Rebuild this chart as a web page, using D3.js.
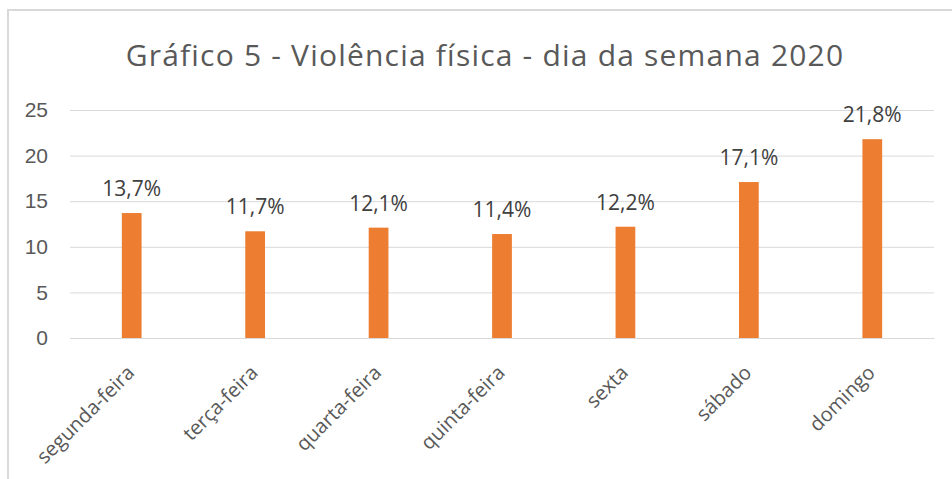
<!DOCTYPE html>
<html>
<head>
<meta charset="utf-8">
<script src="https://cdn.jsdelivr.net/npm/d3@7"></script>
<style>
  body { margin: 0; background: #fff; }
  svg { display: block; font-family: "Open Sans", sans-serif; }
</style>
</head>
<body>
<svg id="chart"></svg>
<script>
const days = ['segunda-feira', 'terça-feira', 'quarta-feira', 'quinta-feira', 'sexta', 'sábado', 'domingo'];
const percents = [13.7, 11.7, 12.1, 11.4, 12.2, 17.1, 21.8];
const yTicks = [0, 5, 10, 15, 20, 25];
const title = 'Gráfico 5 - Violência física - dia da semana 2020';

const width = 952, height = 479;
const margin = {top: 110, right: 18, bottom: 141, left: 70};

const svg = d3.select('#chart')
    .attr('width', width)
    .attr('height', height);

// outer frame (cut off on right and bottom like the screenshot)
svg.append('rect')
    .attr('x', 8).attr('y', 10)
    .attr('width', width + 10).attr('height', height + 10)
    .attr('fill', '#fff')
    .attr('stroke', '#d9d9d9')
    .attr('stroke-width', 2);

const chart = svg.append('g')
    .attr('transform', `translate(${margin.left},${margin.top})`);

const innerW = width - margin.left - margin.right;
const innerH = height - margin.top - margin.bottom;

const x = d3.scaleBand()
    .domain(days)
    .range([0, innerW])
    .paddingInner(0.84)
    .paddingOuter(0.42);

const y = d3.scaleLinear()
    .domain([0, 25])
    .range([innerH, 0]);

// gridlines + y labels
const yAxis = d3.axisLeft(y)
    .tickValues(yTicks)
    .tickSize(-innerW)
    .tickPadding(22)
    .tickFormat(d3.format('d'));

chart.append('g')
    .attr('font-family', null)
    .call(yAxis)
    .call(g => g.select('.domain').remove())
    .call(g => g.selectAll('line').attr('stroke', '#d9d9d9'))
    .call(g => g.selectAll('text')
        .attr('fill', '#595959')
        .style('font-size', '21px'));

// bars
chart.selectAll('.bar')
    .data(percents)
  .join('rect')
    .attr('class', 'bar')
    .attr('x', (d, i) => x(days[i]))
    .attr('y', d => y(d))
    .attr('width', x.bandwidth())
    .attr('height', d => innerH - y(d))
    .attr('fill', '#ed7d31');

// value labels
chart.selectAll('.value')
    .data(percents)
  .join('text')
    .attr('class', 'value')
    .attr('x', (d, i) => x(days[i]) + x.bandwidth() / 2)
    .attr('y', d => y(d) - 17)
    .attr('text-anchor', 'middle')
    .attr('fill', '#404040')
    .style('font-size', '21px')
    .text(d => d3.format('.1f')(d).replace('.', ',') + '%');

// x axis
const xAxis = d3.axisBottom(x).tickSize(0).tickPadding(0);
chart.append('g')
    .attr('transform', `translate(0,${innerH})`)
    .call(xAxis)
    .attr('font-family', null)
    .call(g => g.select('.domain').attr('stroke', '#d9d9d9'))
    .call(g => g.selectAll('text')
        .attr('fill', '#595959')
        .style('font-size', '20px')
        .attr('text-anchor', 'end')
        .attr('dy', null)
        .attr('y', 0)
        .attr('transform', 'translate(4,36) rotate(-45)'));

// title
svg.append('text')
    .attr('x', 485)
    .attr('y', 66)
    .attr('text-anchor', 'middle')
    .attr('fill', '#595959')
    .attr('letter-spacing', 1.2)
    .style('font-size', '30px')
    .text(title);
</script>
</body>
</html>
